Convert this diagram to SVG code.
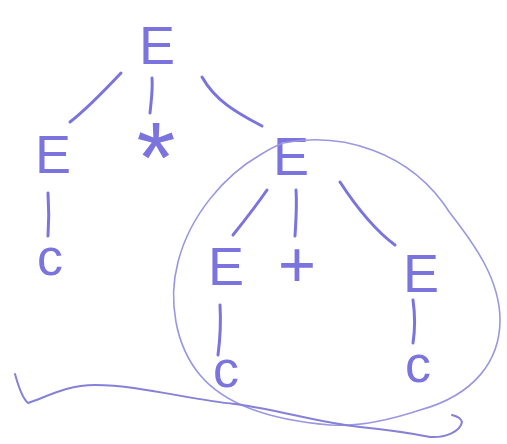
<svg xmlns="http://www.w3.org/2000/svg" width="507" height="444" viewBox="0 0 507 444">
<style>
.t{font-family:"Liberation Sans",Arial,sans-serif;fill:#7b74de;text-anchor:middle}
.e{font-size:54px}
.c{font-size:52px}
.ln{fill:none;stroke:#7b74de;stroke-width:3;stroke-linecap:round}
.ring{fill:none;stroke:#9a96e2;stroke-width:1.6}
.scrib{fill:none;stroke:#8580d8;stroke-width:2;stroke-linecap:round}
</style>
<rect width="507" height="444" fill="#ffffff"/>
<g id="connectors">
<path class="ln" d="M121,73 C105,90 88,108 70,122"/>
<path class="ln" d="M152,78 C153,90 151,102 150,113"/>
<path class="ln" d="M202,77 C215,100 235,112 262,126"/>
<path class="ln" d="M48,193 C49,208 49,222 48,236"/>
<path class="ln" d="M267,190 C256,206 245,220 233,235"/>
<path class="ln" d="M296,190 C297,205 296,221 295,236"/>
<path class="ln" d="M340,182 C355,205 372,228 395,245"/>
<path class="ln" d="M220,305 C221,322 220,340 218,355"/>
<path class="ln" d="M413,300 C415,314 415,330 413,343"/>
</g>
<g id="root"><text class="t e" x="157" y="64">E</text></g>
<g id="times"><text class="t" x="156" y="192" font-size="100">*</text></g>
<g id="leftE"><text class="t e" x="53" y="173" font-size="52">E</text></g>
<g id="leftC"><text class="t c" x="50" y="275">c</text></g>
<g id="midE"><text class="t e" x="291" y="175" font-size="56">E</text></g>
<g id="lowE"><text class="t e" x="226" y="285" font-size="52">E</text></g>
<g id="plus"><text class="t" x="297" y="287" font-size="65">+</text></g>
<g id="rightE"><text class="t e" x="421" y="292">E</text></g>
<g id="lowC"><text class="t c" x="226" y="387">c</text></g>
<g id="rightC"><text class="t c" x="418" y="382" font-size="50">c</text></g>
<g id="annotations">
<path class="ring" d="M283,143 C340,132 410,150 450,213 C475,245 500,280 500,320 C500,360 475,395 420,410 C390,420 360,427 330,425 C270,420 225,405 200,375 C175,345 168,300 178,262 C190,215 225,175 260,155 C268,150 275,146 283,143"/>
<path class="scrib" d="M15,374 C18,385 22,398 28,403 C45,398 65,385 95,385 C140,385 190,400 235,404 C280,410 320,423 360,427 C390,430 410,433 430,437 C445,438 460,432 462,422 C461,418 456,416 452,415"/>
</g>
</svg>
